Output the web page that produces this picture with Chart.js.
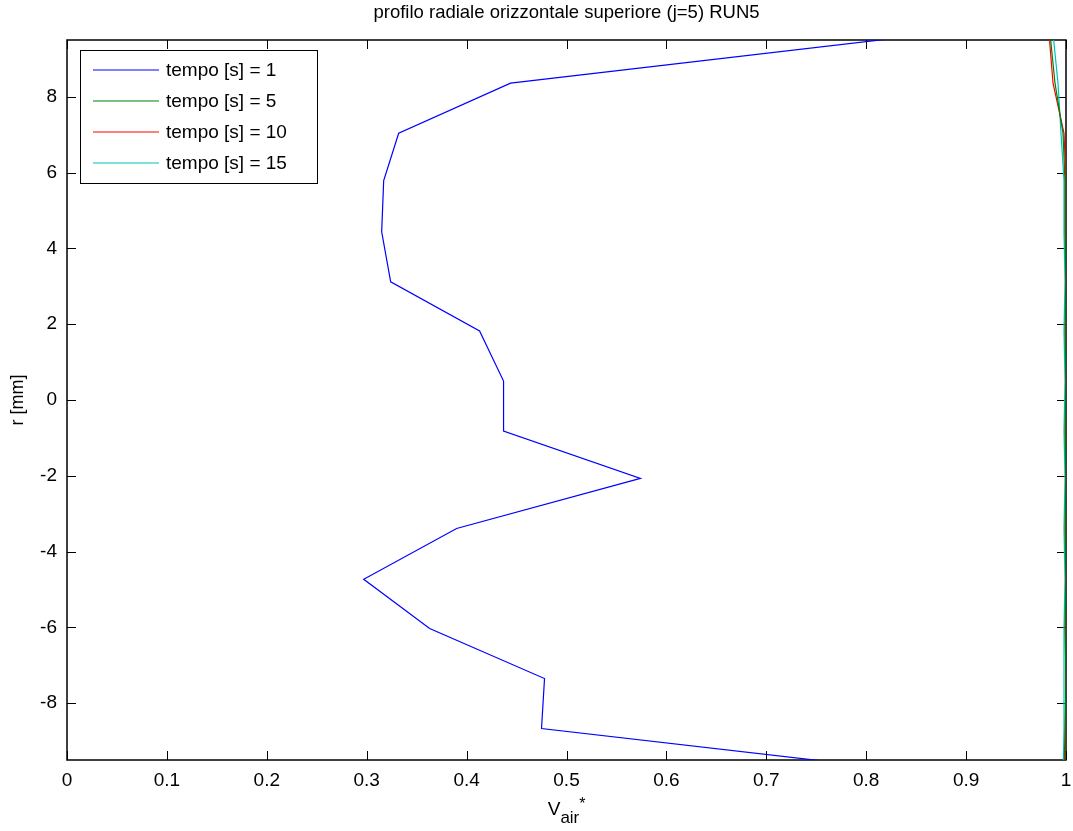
<!DOCTYPE html>
<html>
<head>
<meta charset="utf-8">
<script src="https://cdn.jsdelivr.net/npm/chart.js@4/dist/chart.umd.min.js"></script>
<style>
  body { margin: 0; background: #fff; }
  #wrap { width: 1073px; height: 831px; }
</style>
</head>
<body>
<div id="wrap"><canvas id="chart" width="1073" height="831"></canvas></div>
<script>
// radial positions [mm], same grid for every time step
const radius = [9.67, 8.36, 7.04, 5.79, 4.44, 3.12, 1.82, 0.50, -0.82, -2.07, -3.39, -4.73, -6.03, -7.35, -8.67, -9.98];

// V_air* for each time step
const vAirT1  = [0.869, 0.444, 0.332, 0.317, 0.315, 0.324, 0.413, 0.437, 0.437, 0.574, 0.390, 0.297, 0.363, 0.478, 0.475, 0.906];
const vAirT5  = [0.984, 0.989, 0.997, 0.999, 0.999, 1.000, 0.999, 1.000, 0.999, 1.000, 0.999, 1.000, 0.999, 1.000, 0.999, 0.998];
const vAirT10 = [0.983, 0.987, 0.998, 1.000, 1.000, 1.000, 1.000, 1.000, 1.000, 1.000, 1.000, 1.000, 1.000, 1.000, 1.000, 1.000];
const vAirT15 = [0.987, 0.992, 0.995, 0.998, 0.998, 0.999, 0.998, 0.999, 0.998, 0.999, 0.998, 0.999, 0.998, 0.998, 0.998, 0.997];

const seriesLabels = ['tempo [s] = 1', 'tempo [s] = 5', 'tempo [s] = 10', 'tempo [s] = 15'];
const seriesColors = ['#0000ff', '#008000', '#ff0000', '#00bfbf'];

const xTicks = [0, 0.1, 0.2, 0.3, 0.4, 0.5, 0.6, 0.7, 0.8, 0.9, 1];
const yTicks = [-8, -6, -4, -2, 0, 2, 4, 6, 8];

const FONT = "'Liberation Sans', Arial, sans-serif";
const TICK_LEN = 9;

function toPoints(vals) {
    return vals.map((v, i) => ({ x: v, y: radius[i] }));
}

// Draws a MATLAB-like box with inward ticks, legend and titles
const matlabLook = {
    id: 'matlabLook',
    beforeDatasetsDraw(chart) {
        const ctx = chart.ctx, a = chart.chartArea;
        const xs = chart.scales.x, ys = chart.scales.y;
        ctx.save();
        ctx.strokeStyle = '#000';
        ctx.lineWidth = 1;
        ctx.beginPath();
        xs.ticks.forEach(t => {
            const px = Math.round(xs.getPixelForValue(t.value)) + 0.5;
            ctx.moveTo(px, a.bottom); ctx.lineTo(px, a.bottom - TICK_LEN);
            ctx.moveTo(px, a.top); ctx.lineTo(px, a.top + TICK_LEN);
        });
        ys.ticks.forEach(t => {
            const py = Math.round(ys.getPixelForValue(t.value)) + 0.5;
            ctx.moveTo(a.left, py); ctx.lineTo(a.left + TICK_LEN, py);
            ctx.moveTo(a.right, py); ctx.lineTo(a.right - TICK_LEN, py);
        });
        ctx.stroke();
        ctx.lineWidth = 1.5;
        ctx.strokeRect(a.left, a.top, a.right - a.left, a.bottom - a.top);
        ctx.restore();
    },
    afterDraw(chart) {
        const ctx = chart.ctx, a = chart.chartArea;
        ctx.save();
        ctx.fillStyle = '#000';

        // title
        ctx.font = '18.5px ' + FONT;
        ctx.textAlign = 'center';
        ctx.textBaseline = 'middle';
        ctx.fillText('profilo radiale orizzontale superiore (j=5) RUN5', (a.left + a.right) / 2, 13);

        // y title
        ctx.font = '18px ' + FONT;
        ctx.save();
        ctx.translate(18, (a.top + a.bottom) / 2);
        ctx.rotate(-Math.PI / 2);
        ctx.fillText('r [mm]', 0, 0);
        ctx.restore();

        // x title: V_air^*
        ctx.textAlign = 'left';
        ctx.textBaseline = 'alphabetic';
        ctx.font = '19px ' + FONT;
        const wV = ctx.measureText('V').width;
        ctx.font = '17px ' + FONT;
        const wSub = ctx.measureText('air').width;
        const x0 = (a.left + a.right) / 2 - (wV + wSub + 6) / 2;
        ctx.font = '19px ' + FONT;
        ctx.fillText('V', x0, 815);
        ctx.font = '17px ' + FONT;
        ctx.fillText('air', x0 + wV, 823);
        ctx.font = '16px ' + FONT;
        ctx.fillText('*', x0 + wV + wSub, 809);

        // legend
        const lx = 80, ly = 50, lw = 237, lh = 133;
        ctx.fillStyle = '#fff';
        ctx.fillRect(lx, ly, lw, lh);
        ctx.strokeStyle = '#000';
        ctx.lineWidth = 1;
        ctx.strokeRect(lx + 0.5, ly + 0.5, lw, lh);
        ctx.font = '19px ' + FONT;
        ctx.textBaseline = 'middle';
        chart.data.datasets.forEach((ds, i) => {
            const y = ly + 20 + i * 31;
            ctx.strokeStyle = ds.borderColor;
            ctx.lineWidth = ds.borderWidth;
            ctx.beginPath();
            ctx.moveTo(lx + 13, y);
            ctx.lineTo(lx + 79, y);
            ctx.stroke();
            ctx.fillStyle = '#000';
            ctx.fillText(ds.label, lx + 86, y + 1);
        });
        ctx.restore();
    }
};

const datasets = [vAirT1, vAirT5, vAirT10, vAirT15].map((vals, i) => ({
    label: seriesLabels[i],
    data: toPoints(vals),
    borderColor: seriesColors[i],
    backgroundColor: seriesColors[i],
    borderWidth: 1.2,
    showLine: true,
    pointRadius: 0,
    pointHoverRadius: 0,
    tension: 0
}));

new Chart(document.getElementById('chart'), {
    type: 'scatter',
    data: { datasets: datasets },
    options: {
        responsive: false,
        animation: false,
        devicePixelRatio: 1,
        layout: { autoPadding: false, padding: { top: 40, right: 7, left: 0, bottom: 0 } },
        plugins: { legend: { display: false }, title: { display: false }, tooltip: { enabled: false } },
        scales: {
            x: {
                type: 'linear', min: 0, max: 1,
                grid: { display: false, drawTicks: false },
                border: { display: false },
                afterBuildTicks: s => { s.ticks = xTicks.map(v => ({ value: v })); },
                afterFit: s => { s.height = 71; s.paddingLeft = 0; s.paddingRight = 0; },
                ticks: { padding: 9, color: '#000', font: { family: FONT, size: 19 }, callback: v => String(v), maxRotation: 0 }
            },
            y: {
                type: 'linear', min: -9.5, max: 9.5,
                grid: { display: false, drawTicks: false },
                border: { display: false },
                afterBuildTicks: s => { s.ticks = yTicks.map(v => ({ value: v })); },
                afterFit: s => { s.width = 67; s.paddingTop = 0; s.paddingBottom = 0; },
                ticks: { padding: 10, color: '#000', font: { family: FONT, size: 19 }, callback: v => String(v) }
            }
        }
    },
    plugins: [matlabLook]
});
</script>
</body>
</html>
